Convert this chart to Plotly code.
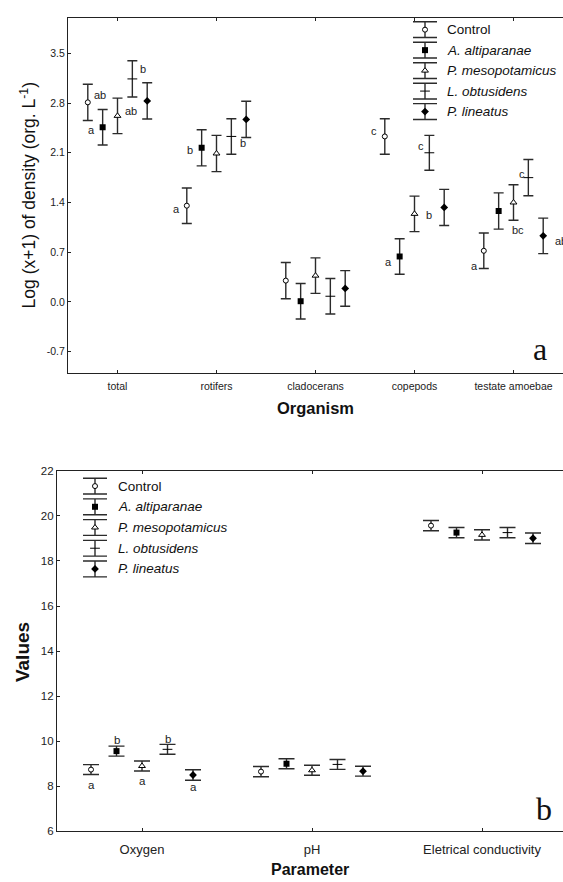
import plotly.graph_objects as go

W, H = 563, 882

# ---------------- data ----------------
series = ["Control", "A. altiparanae", "P. mesopotamicus", "L. obtusidens", "P. lineatus"]
italic = [False, True, True, True, True]

organisms = ["total", "rotifers", "cladocerans", "copepods", "testate amoebae"]
dens_control = [2.81, 1.355, 0.30, 2.33, 0.72]
dens_altip = [2.46, 2.17, 0.01, 0.64, 1.28]
dens_meso = [2.62, 2.09, 0.37, 1.24, 1.40]
dens_obtu = [3.14, 2.33, 0.08, 2.10, 1.75]
dens_line = [2.83, 2.57, 0.19, 1.33, 0.93]
dens_err_control = [0.255, 0.25, 0.255, 0.25, 0.25]
dens_err_altip = [0.25, 0.255, 0.25, 0.25, 0.255]
dens_err_meso = [0.25, 0.255, 0.25, 0.25, 0.25]
dens_err_obtu = [0.255, 0.25, 0.25, 0.245, 0.255]
dens_err_line = [0.255, 0.255, 0.25, 0.255, 0.25]

parameters = ["Oxygen", "pH", "Eletrical conductivity"]
par_control = [8.74, 8.65, 19.57]
par_altip = [9.56, 9.00, 19.26]
par_meso = [8.90, 8.71, 19.16]
par_obtu = [9.64, 8.97, 19.26]
par_line = [8.50, 8.67, 19.01]
par_err_control = [0.22, 0.23, 0.23]
par_err_altip = [0.22, 0.22, 0.23]
par_err_meso = [0.22, 0.22, 0.23]
par_err_obtu = [0.22, 0.22, 0.23]
par_err_line = [0.23, 0.22, 0.23]

dens_vals = [dens_control, dens_altip, dens_meso, dens_obtu, dens_line]
dens_errs = [dens_err_control, dens_err_altip, dens_err_meso, dens_err_obtu, dens_err_line]
par_vals = [par_control, par_altip, par_meso, par_obtu, par_line]
par_errs = [par_err_control, par_err_altip, par_err_meso, par_err_obtu, par_err_line]

# significance letters: (category index, series index, text)
dens_letters = [
    (0, 0, "ab"), (0, 1, "a"), (0, 2, "ab"), (0, 3, "b"),
    (1, 0, "a"), (1, 1, "b"), (1, 3, "b"),
    (3, 0, "c"), (3, 1, "a"), (3, 2, "b"), (3, 3, "c"),
    (4, 0, "a"), (4, 2, "bc"), (4, 3, "c"), (4, 4, "ab"),
]
par_letters = [(0, 0, "a"), (0, 1, "b"), (0, 2, "a"), (0, 3, "b"), (0, 4, "a")]

# ---------------- styles ----------------
offsets = [-0.3, -0.15, 0.0, 0.15, 0.3]
FONT = "Liberation Sans, Arial, sans-serif"
SERIF = "Liberation Serif, Times New Roman, serif"
BAR = "#2b2b2b"
markers = [
    dict(symbol="circle", size=5, color="white", line=dict(color="black", width=1)),
    dict(symbol="square", size=6, color="black", line=dict(color="black", width=0)),
    dict(symbol="triangle-up", size=6, color="white", line=dict(color="black", width=1)),
    dict(symbol="line-ew", size=7, color="black", line=dict(color="black", width=1)),
    dict(symbol="diamond", size=6, color="black", line=dict(color="black", width=0)),
]

def py(p):
    return 1 - p / H

def px(p):
    return p / W

# letter offsets in pixels (dx right, dy up), keyed by (cat, series)
dens_letter_shift = {
    (0, 0): (12, 7, "center"), (0, 1): (-11, -3, "center"), (0, 2): (13, 5, "center"),
    (0, 3): (10.5, 10, "center"),
    (1, 0): (-10, -3, "center"), (1, 1): (-11.5, -2, "center"), (1, 3): (12, -7, "center"),
    (3, 0): (-10.5, 5, "center"), (3, 1): (-11, -6, "center"), (3, 2): (14, -1, "center"),
    (3, 3): (-8, 7, "center"),
    (4, 0): (-9, -15, "center"), (4, 2): (4, -28, "center"), (4, 3): (-6, 4, "center"),
    (4, 4): (9.5, -5, "left"),
}
par_letter_shift = {
    (0, 0): (0, -15, "center"), (0, 1): (0, 11, "center"), (0, 2): (0, -15, "center"),
    (0, 3): (0, 10, "center"), (0, 4): (0, -12, "center"),
}

fig = go.Figure()

# top panel traces
for s in range(5):
    fig.add_trace(go.Scatter(
        x=[i + offsets[s] for i in range(len(organisms))], y=dens_vals[s],
        mode="markers", marker=markers[s], showlegend=False,
        error_y=dict(type="data", array=dens_errs[s], color=BAR, thickness=1.4, width=5),
        xaxis="x", yaxis="y"))

# bottom panel traces
for s in range(5):
    fig.add_trace(go.Scatter(
        x=[i + offsets[s] for i in range(len(parameters))], y=par_vals[s],
        mode="markers", marker=markers[s], showlegend=False,
        error_y=dict(type="data", array=par_errs[s], color=BAR, thickness=1.4, width=8),
        xaxis="x2", yaxis="y2"))

# custom legends (pixel-space overlay axes)
annotations = []
legends = [(425, 24.0, 20.75, 445), (95, 486.7, 21.0, 115.5)]
for lx, ly0, dy, tx in legends:
    ys = [ly0 + i * dy for i in range(len(series))]
    for s in range(len(series)):
        fig.add_trace(go.Scatter(
            x=[lx], y=[ys[s]], mode="markers", marker=markers[s], showlegend=False,
            error_y=dict(type="constant", value=8, color=BAR, thickness=1.4, width=12),
            xaxis="x3", yaxis="y3"))
        txt = f"<i>{series[s]}</i>" if italic[s] else series[s]
        annotations.append(dict(x=px(tx), y=py(ys[s]), xref="paper", yref="paper",
                                text=txt, showarrow=False, xanchor="left", yanchor="middle",
                                font=dict(family=FONT, size=13.5, color="#111")))

# letters
for c, s, t in dens_letters:
    dx, dyy, anc = dens_letter_shift[(c, s)]
    annotations.append(dict(x=c + offsets[s], y=dens_vals[s][c], xref="x", yref="y",
                            text=t, showarrow=False, xshift=dx, yshift=dyy, xanchor=anc,
                            yanchor="middle",
                            font=dict(family=FONT, size=11, color="#222")))
for c, s, t in par_letters:
    dx, dyy, anc = par_letter_shift[(c, s)]
    annotations.append(dict(x=c + offsets[s], y=par_vals[s][c], xref="x2", yref="y2",
                            text=t, showarrow=False, xshift=dx, yshift=dyy, xanchor=anc,
                            yanchor="middle",
                            font=dict(family=FONT, size=11.5, color="#222")))

# titles
titles = [
    dict(x=px(28), y=py(192), textangle=-90,
         text="Log (x+1) of density (org. L<sup>-1</sup>)",
         font=dict(family=FONT, size=17.5, color="#111")),
    dict(x=px(315.5), y=py(408),
         text="<b>Organism</b>", font=dict(family=FONT, size=16.5, color="#111")),
    dict(x=px(22), y=py(655), textangle=-90,
         text="<b>Values</b>", font=dict(family=FONT, size=19, color="#111")),
    dict(x=px(310), y=py(875),
         text="<b>Parameter</b>", font=dict(family=FONT, size=16, color="#111")),
    dict(x=px(540), y=py(348),
         text="a", font=dict(family=SERIF, size=32, color="#111")),
    dict(x=px(544), y=py(814),
         text="b", font=dict(family=SERIF, size=32, color="#111")),
]
for t in titles:
    t.update(xref="paper", yref="paper", showarrow=False, xanchor="center", yanchor="middle")
annotations += titles

axis_common = dict(showgrid=False, zeroline=False, showline=True, linecolor="#222",
                   linewidth=1.2, ticks="inside", ticklen=3, tickcolor="#222")

fig.update_layout(
    width=W, height=H, margin=dict(l=0, r=0, t=0, b=0),
    paper_bgcolor="white", plot_bgcolor="rgba(0,0,0,0)", showlegend=False,
    xaxis=dict(domain=[px(68), 1.0], range=[-0.5, -0.5 + (W - 68) / 99.0],
               tickvals=list(range(len(organisms))), ticktext=organisms,
               anchor="y", mirror="ticks", ticklabelstandoff=3,
               tickfont=dict(family=FONT, size=10.5, color="#222"), **axis_common),
    yaxis=dict(domain=[py(372), py(12)], range=[-1.0, 4.0],
               tickvals=[-0.7, 0.0, 0.7, 1.4, 2.1, 2.8, 3.5],
               ticktext=["-0.7", "0.0", "0.7", "1.4", "2.1", "2.8", "3.5"],
               anchor="x", tickfont=dict(family=FONT, size=10.5, color="#222"), **axis_common),
    xaxis2=dict(domain=[px(57), 1.0], range=[-0.5, -0.5 + (W - 57) / 170.0],
                tickvals=list(range(len(parameters))), ticktext=parameters,
                anchor="y2", mirror="ticks", ticklabelstandoff=6,
                tickfont=dict(family=FONT, size=13, color="#222"), **axis_common),
    yaxis2=dict(domain=[py(836.7), py(471.3)], range=[6, 22], dtick=2,
                anchor="x2", tickfont=dict(family=FONT, size=11.5, color="#222"), **axis_common),
    xaxis3=dict(domain=[0, 1], range=[0, W], visible=False, fixedrange=True),
    yaxis3=dict(domain=[0, 1], range=[H, 0], visible=False, fixedrange=True, anchor="x3"),
    annotations=annotations,
)

fig.write_html("out.html")
